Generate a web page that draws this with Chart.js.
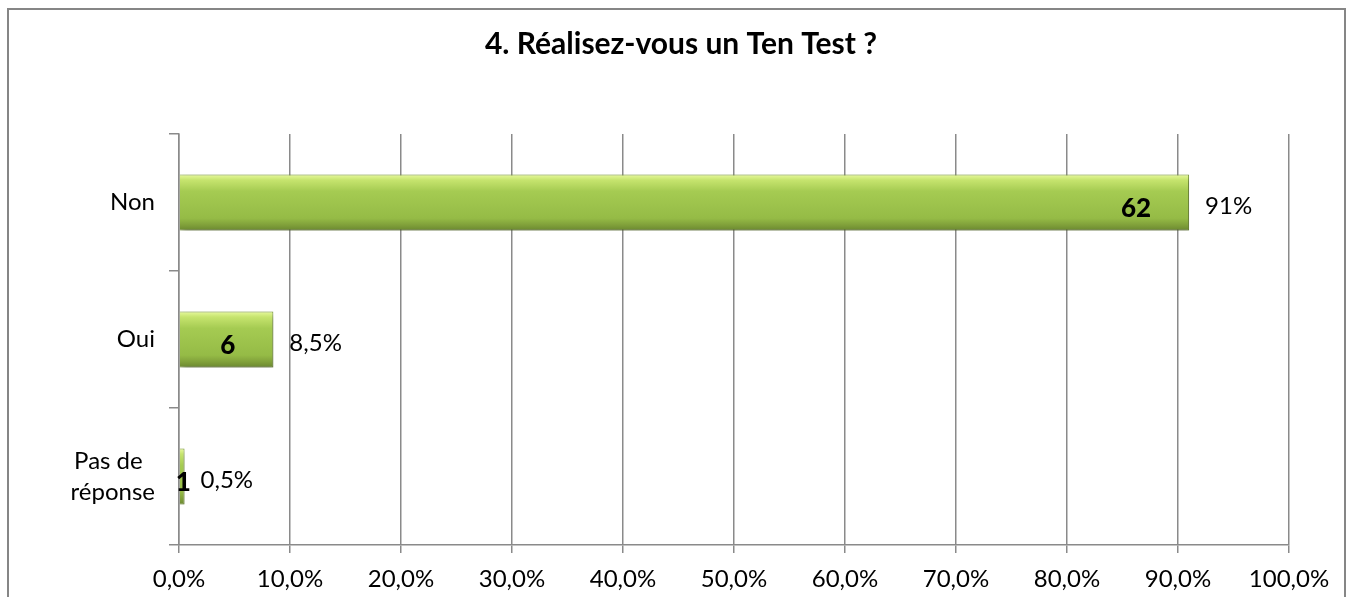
<!DOCTYPE html>
<html>
<head>
<meta charset="utf-8">
<script src="https://cdn.jsdelivr.net/npm/chart.js@4"></script>
<style>
  body { margin: 0; background: #fff; }
  #wrap { width: 1354px; height: 597px; }
</style>
</head>
<body>
<div id="wrap"><canvas id="ten-test-chart" width="1354" height="597"></canvas></div>
<script>
// Data
const chartTitle = '4. Réalisez-vous un Ten Test ?';
const categories = ['Non', 'Oui', ['Pas de  ', 'réponse']];
const percentValues = [91, 8.5, 0.5];
const countLabels = ['62', '6', '1'];
const percentLabels = ['91%', '8,5%', '0,5%'];

const FONT = 'Lato, "Open Sans", sans-serif';
const GRID = '#8a8a8a';

// bar fill: vertical gradient to fake the bevel look
function barFill(context) {
  const chart = context.chart;
  if (!chart.chartArea) return '#9bc24f';
  const yScale = chart.scales.y;
  const center = yScale.getPixelForValue(context.dataIndex);
  const band = (chart.chartArea.bottom - chart.chartArea.top) / categories.length;
  const half = band * 0.41 / 2;
  const g = chart.ctx.createLinearGradient(0, center - half, 0, center + half);
  g.addColorStop(0, '#e8fa9e');
  g.addColorStop(0.1, '#c6e46e');
  g.addColorStop(0.3, '#a5cb52');
  g.addColorStop(0.78, '#95bb46');
  g.addColorStop(0.9, '#80a03a');
  g.addColorStop(1, '#6a8730');
  return g;
}

const framePlugin = {
  id: 'frame',
  beforeDraw(chart) {
    const ctx = chart.ctx;
    ctx.save();
    ctx.fillStyle = '#fff';
    ctx.fillRect(0, 0, chart.width, chart.height);
    ctx.strokeStyle = '#868686';
    ctx.lineWidth = 2;
    ctx.strokeRect(8, 9, 1337, 700);
    ctx.fillStyle = '#000';
    ctx.font = 'bold 30px ' + FONT;
    ctx.textAlign = 'center';
    ctx.textBaseline = 'alphabetic';
    ctx.fillText(chartTitle, 681, 54);
    ctx.restore();
  },
  beforeDatasetsDraw(chart) {
    const ctx = chart.ctx;
    ctx.save();
    ctx.shadowColor = 'rgba(0,0,0,0.35)';
    ctx.shadowBlur = 6;
    ctx.shadowOffsetX = 2;
    ctx.shadowOffsetY = 4;
  },
  afterDatasetsDraw(chart) {
    chart.ctx.restore();
    const ctx = chart.ctx;
    const meta = chart.getDatasetMeta(0);
    ctx.save();
    ctx.fillStyle = '#000';
    ctx.textBaseline = 'alphabetic';
    meta.data.forEach((bar, i) => {
      const end = bar.x;
      const base = bar.base;
      // count inside the bar, near its end
      ctx.font = '900 26px ' + FONT;
      ctx.textAlign = 'right';
      ctx.fillText(countLabels[i], Math.max(end - 38, base + 11), bar.y + 14);
      // percentage just outside the bar
      ctx.font = '24px ' + FONT;
      ctx.textAlign = 'left';
      ctx.fillText(percentLabels[i], end + 16, bar.y + 11);
    });
    ctx.restore();
  }
};

const ctx = document.getElementById('ten-test-chart').getContext('2d');
new Chart(ctx, {
  type: 'bar',
  data: {
    labels: categories,
    datasets: [{
      data: percentValues,
      backgroundColor: barFill,
      borderColor: '#7c9c38',
      borderWidth: 1,
      barPercentage: 0.41,
      categoryPercentage: 1
    }]
  },
  options: {
    indexAxis: 'y',
    responsive: false,
    animation: false,
    events: [],
    layout: { padding: { top: 134, right: 65, left: 0, bottom: 0 } },
    plugins: {
      legend: { display: false },
      title: { display: false },
      tooltip: { enabled: false }
    },
    scales: {
      x: {
        min: 0,
        max: 100,
        grid: { color: GRID, lineWidth: 1.5, tickLength: 8, tickColor: GRID },
        border: { color: GRID, width: 1.5 },
        ticks: {
          stepSize: 10,
          padding: 12,
          color: '#000',
          font: { family: FONT, size: 24 },
          callback: v => v.toFixed(1).replace('.', ',') + '%'
        },
        afterFit: scale => { scale.height = 52; }
      },
      y: {
        grid: { drawOnChartArea: false, color: GRID, lineWidth: 1.5, tickLength: 10, offset: true },
        border: { color: GRID, width: 1.5 },
        ticks: {
          padding: 14,
          color: '#000',
          font: { family: FONT, size: 24, lineHeight: 1.3 }
        },
        afterFit: scale => { scale.width = 179; }
      }
    }
  },
  plugins: [framePlugin]
});
</script>
</body>
</html>
